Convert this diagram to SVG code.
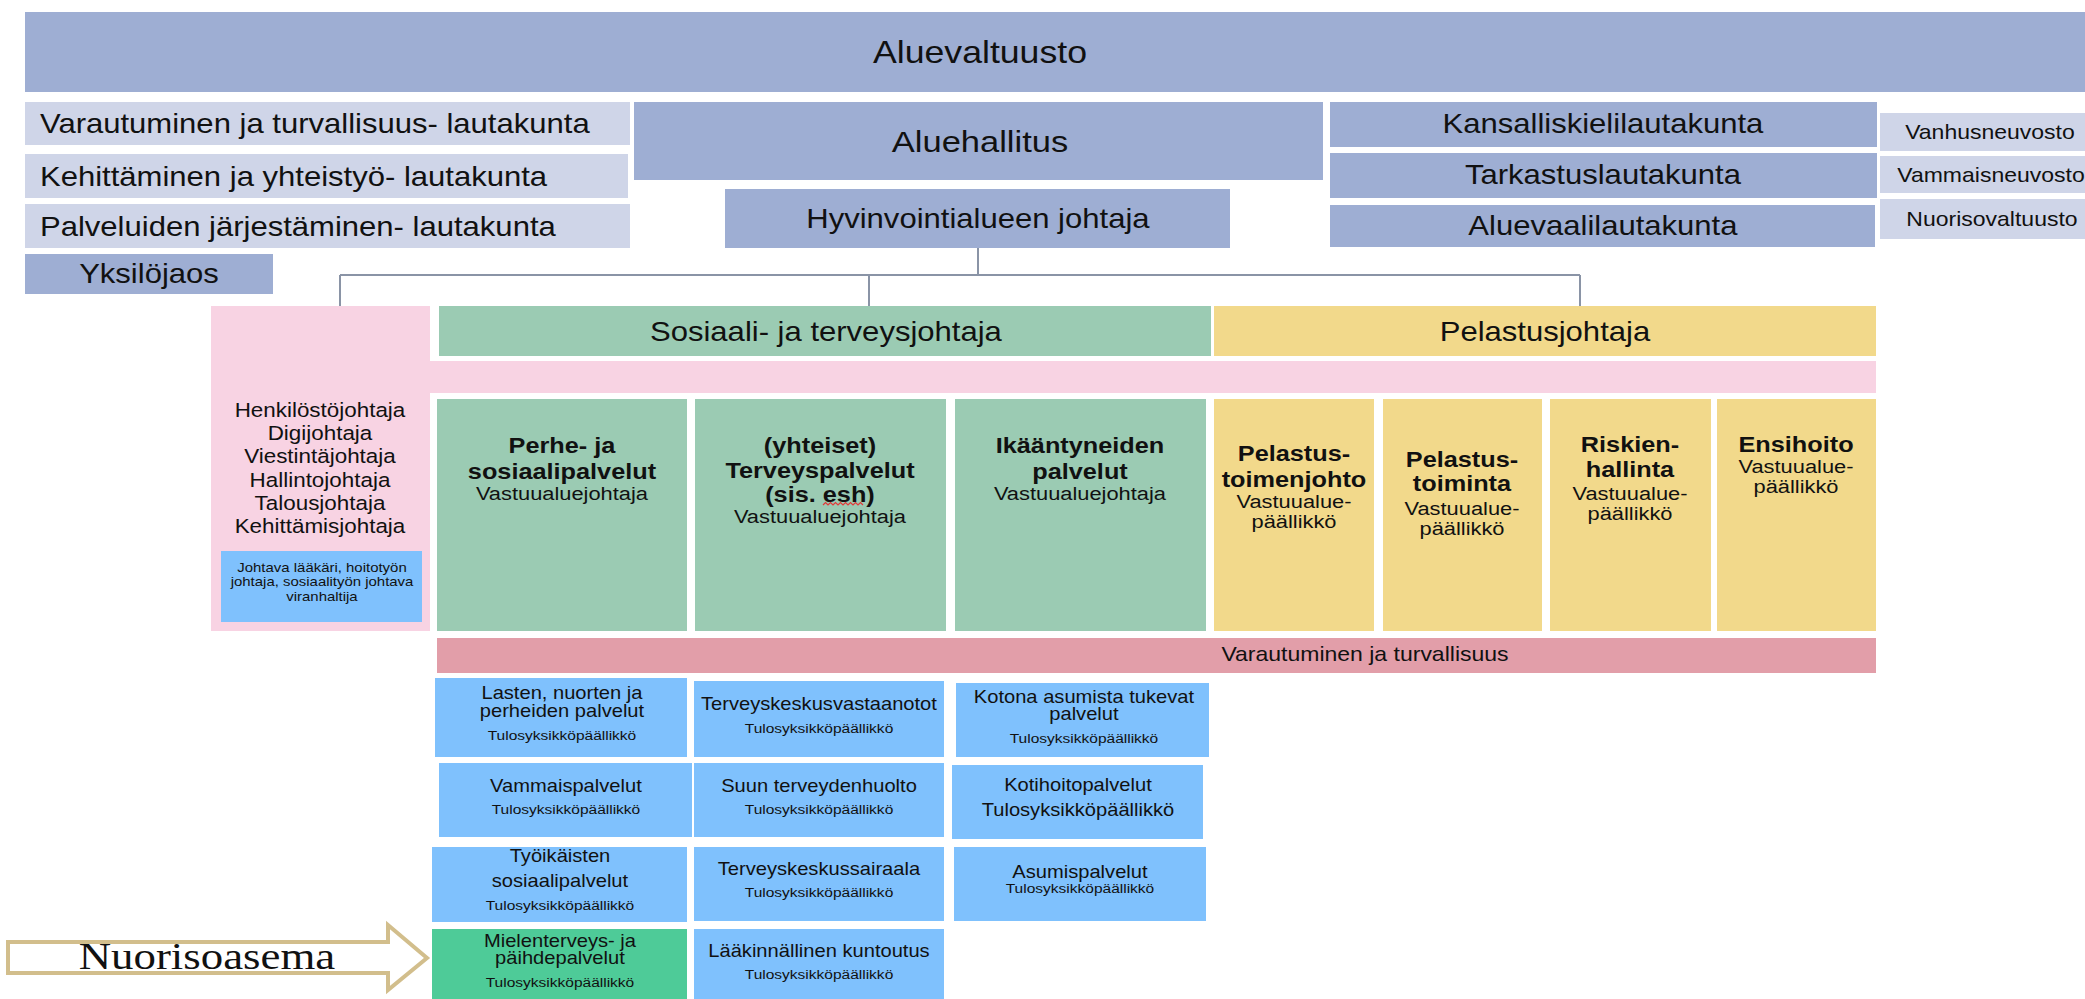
<svg xmlns="http://www.w3.org/2000/svg" width="2085" height="999" viewBox="0 0 2085 999">
<style>
text{font-family:"Liberation Sans",Arial,sans-serif;fill:#111;text-anchor:middle;transform-box:fill-box;transform-origin:center;transform:scaleX(1.15)}
text.l{text-anchor:start;transform-origin:left center}
.f31{font-size:31px}.f30{font-size:30px}.f27{font-size:27px}.f20{font-size:20px}.f19{font-size:19.5px}
.b22{font-size:22px;font-weight:bold}.r19{font-size:19px}
.s17{font-size:17.5px}.s13{font-size:13.5px}.j13{font-size:13px}
.dk{fill:#9EAED3}.lt{fill:#CFD5E8}.gr{fill:#9BCBB3}.ye{fill:#F2D98B}.pk{fill:#F8D3E3}.bd{fill:#E29EA9}.bl{fill:#7FC1FD}.mg{fill:#4ECB98}
.con{stroke:#8A94A6;stroke-width:2;fill:none}
</style>
<rect width="2085" height="999" fill="#fff"/>

<g id="connectors">
<path class="con" d="M978 248V275M340 275H1580M340 275V306M869 275V306M1580 275V306"/>
</g>

<g id="aluevaltuusto"><rect class="dk" x="25" y="12" width="2060" height="80"/><text class="f31" x="980" y="63">Aluevaltuusto</text></g>

<g id="lk-varautuminen"><rect class="lt" x="25" y="102" width="605" height="43"/><text class="f27 l" x="40" y="133">Varautuminen ja turvallisuus- lautakunta</text></g>
<g id="lk-kehittaminen"><rect class="lt" x="25" y="154" width="603" height="44"/><text class="f27 l" x="40" y="186">Kehittäminen ja yhteistyö- lautakunta</text></g>
<g id="lk-palveluiden"><rect class="lt" x="25" y="204" width="605" height="44"/><text class="f27 l" x="40" y="236">Palveluiden järjestäminen- lautakunta</text></g>
<g id="yksilojaos"><rect class="dk" x="25" y="254" width="248" height="40"/><text class="f27" x="149" y="283">Yksilöjaos</text></g>

<g id="aluehallitus"><rect class="dk" x="634" y="102" width="689" height="78"/><text class="f30" x="980" y="152">Aluehallitus</text></g>
<g id="hyvinvointialueen-johtaja"><rect class="dk" x="725" y="189" width="505" height="59"/><text class="f27" x="978" y="228">Hyvinvointialueen johtaja</text></g>

<g id="kansalliskieli"><rect class="dk" x="1330" y="102" width="547" height="45"/><text class="f27" x="1603" y="133">Kansalliskielilautakunta</text></g>
<g id="tarkastus"><rect class="dk" x="1330" y="153" width="547" height="45"/><text class="f27" x="1603" y="184">Tarkastuslautakunta</text></g>
<g id="aluevaali"><rect class="dk" x="1330" y="205" width="545" height="42"/><text class="f27" x="1603" y="235">Aluevaalilautakunta</text></g>

<g id="vanhusneuvosto"><rect class="lt" x="1880" y="113" width="205" height="38"/><text class="f20" x="1990" y="139">Vanhusneuvosto</text></g>
<g id="vammaisneuvosto"><rect class="lt" x="1880" y="156" width="205" height="37"/><text class="f20" x="1991" y="182">Vammaisneuvosto</text></g>
<g id="nuorisovaltuusto"><rect class="lt" x="1880" y="199" width="205" height="40"/><text class="f20" x="1992" y="226">Nuorisovaltuusto</text></g>

<g id="konsernipalvelut">
<rect class="pk" x="211" y="306" width="219" height="325"/>
<rect class="pk" x="211" y="361" width="1665" height="32"/>
<text class="f19" x="320" y="417">Henkilöstöjohtaja</text>
<text class="f19" x="320" y="440">Digijohtaja</text>
<text class="f19" x="320" y="463">Viestintäjohtaja</text>
<text class="f19" x="320" y="487">Hallintojohtaja</text>
<text class="f19" x="320" y="510">Talousjohtaja</text>
<text class="f19" x="320" y="533">Kehittämisjohtaja</text>
</g>
<g id="johtava"><rect class="bl" x="221" y="551" width="201" height="71"/>
<text class="j13" x="322" y="572">Johtava lääkäri, hoitotyön</text>
<text class="j13" x="322" y="586">johtaja, sosiaalityön johtava</text>
<text class="j13" x="322" y="601">viranhaltija</text></g>

<g id="sosiaali-terveysjohtaja"><rect class="gr" x="439" y="306" width="772" height="50"/><text class="f27" x="826" y="341">Sosiaali- ja terveysjohtaja</text></g>
<g id="pelastusjohtaja"><rect class="ye" x="1214" y="306" width="662" height="50"/><text class="f27" x="1545" y="341">Pelastusjohtaja</text></g>

<g id="perhe"><rect class="gr" x="437" y="399" width="250" height="232"/>
<text class="b22" x="562" y="453">Perhe- ja</text><text class="b22" x="562" y="479">sosiaalipalvelut</text><text class="r19" x="562" y="500">Vastuualuejohtaja</text></g>
<g id="terveys"><rect class="gr" x="695" y="399" width="251" height="232"/>
<text class="b22" x="820" y="453">(yhteiset)</text><text class="b22" x="820" y="478">Terveyspalvelut</text><text class="b22" x="820" y="502">(sis. esh)</text><text class="r19" x="820" y="523">Vastuualuejohtaja</text>
<path d="M823 505l2.5-2.5 2.5 2.5 2.5-2.5 2.5 2.5 2.5-2.5 2.5 2.5 2.5-2.5 2.5 2.5 2.5-2.5 2.5 2.5 2.5-2.5 2.5 2.5 2.5-2.5 2.5 2.5 2.5-2.5 2.5 2.5" fill="none" stroke="#E23A3A" stroke-width="1.2"/></g>
<g id="ikaantyneet"><rect class="gr" x="955" y="399" width="251" height="232"/>
<text class="b22" x="1080" y="453">Ikääntyneiden</text><text class="b22" x="1080" y="479">palvelut</text><text class="r19" x="1080" y="500">Vastuualuejohtaja</text></g>

<g id="pelastustoimenjohto"><rect class="ye" x="1214" y="399" width="160" height="232"/>
<text class="b22" x="1294" y="461">Pelastus-</text><text class="b22" x="1294" y="487">toimenjohto</text><text class="r19" x="1294" y="508">Vastuualue-</text><text class="r19" x="1294" y="528">päällikkö</text></g>
<g id="pelastustoiminta"><rect class="ye" x="1383" y="399" width="159" height="232"/>
<text class="b22" x="1462" y="467">Pelastus-</text><text class="b22" x="1462" y="491">toiminta</text><text class="r19" x="1462" y="515">Vastuualue-</text><text class="r19" x="1462" y="535">päällikkö</text></g>
<g id="riskienhallinta"><rect class="ye" x="1550" y="399" width="161" height="232"/>
<text class="b22" x="1630" y="452">Riskien-</text><text class="b22" x="1630" y="477">hallinta</text><text class="r19" x="1630" y="500">Vastuualue-</text><text class="r19" x="1630" y="520">päällikkö</text></g>
<g id="ensihoito"><rect class="ye" x="1717" y="399" width="159" height="232"/>
<text class="b22" x="1796" y="452">Ensihoito</text><text class="r19" x="1796" y="473">Vastuualue-</text><text class="r19" x="1796" y="493">päällikkö</text></g>

<g id="varautuminen-band"><rect class="bd" x="437" y="638" width="1439" height="35"/><text class="f20" x="1365" y="661">Varautuminen ja turvallisuus</text></g>

<g id="lasten"><rect class="bl" x="435" y="678" width="252" height="79"/>
<text class="s17" x="562" y="699">Lasten, nuorten ja</text><text class="s17" x="562" y="717">perheiden palvelut</text><text class="s13" x="562" y="740">Tulosyksikköpäällikkö</text></g>
<g id="vammaispalvelut"><rect class="bl" x="439" y="763" width="253" height="74"/>
<text class="s17" x="566" y="792">Vammaispalvelut</text><text class="s13" x="566" y="814">Tulosyksikköpäällikkö</text></g>
<g id="tyoikaisten"><rect class="bl" x="432" y="847" width="255" height="75"/>
<text class="s17" x="560" y="862">Työikäisten</text><text class="s17" x="560" y="887">sosiaalipalvelut</text><text class="s13" x="560" y="910">Tulosyksikköpäällikkö</text></g>
<g id="mielenterveys"><rect class="mg" x="432" y="929" width="255" height="70"/>
<text class="s17" x="560" y="947">Mielenterveys- ja</text><text class="s17" x="560" y="964">päihdepalvelut</text><text class="s13" x="560" y="987">Tulosyksikköpäällikkö</text></g>

<g id="terveyskeskusvastaanotot"><rect class="bl" x="694" y="681" width="250" height="76"/>
<text class="s17" x="819" y="710">Terveyskeskusvastaanotot</text><text class="s13" x="819" y="733">Tulosyksikköpäällikkö</text></g>
<g id="suun"><rect class="bl" x="694" y="763" width="250" height="74"/>
<text class="s17" x="819" y="792">Suun terveydenhuolto</text><text class="s13" x="819" y="814">Tulosyksikköpäällikkö</text></g>
<g id="sairaala"><rect class="bl" x="694" y="847" width="250" height="74"/>
<text class="s17" x="819" y="875">Terveyskeskussairaala</text><text class="s13" x="819" y="897">Tulosyksikköpäällikkö</text></g>
<g id="kuntoutus"><rect class="bl" x="694" y="929" width="250" height="70"/>
<text class="s17" x="819" y="957">Lääkinnällinen kuntoutus</text><text class="s13" x="819" y="979">Tulosyksikköpäällikkö</text></g>

<g id="kotona"><rect class="bl" x="956" y="683" width="253" height="74"/>
<text class="s17" x="1084" y="703">Kotona asumista tukevat</text><text class="s17" x="1084" y="720">palvelut</text><text class="s13" x="1084" y="743">Tulosyksikköpäällikkö</text></g>
<g id="kotihoito"><rect class="bl" x="952" y="765" width="251" height="74"/>
<text class="s17" x="1078" y="791">Kotihoitopalvelut</text><text class="s17" x="1078" y="816">Tulosyksikköpäällikkö</text></g>
<g id="asumispalvelut"><rect class="bl" x="954" y="847" width="252" height="74"/>
<text class="s17" x="1080" y="878">Asumispalvelut</text><text class="s13" x="1080" y="893">Tulosyksikköpäällikkö</text></g>

<g id="nuorisoasema">
<polygon points="8,942 388,942 388,925 427,958 388,990 388,973 8,973" fill="#fff" stroke="#D2BE8C" stroke-width="4"/>
<text x="207" y="969" style="font-family:'Liberation Serif','Times New Roman',serif;font-size:39px">Nuorisoasema</text>
</g>
</svg>
